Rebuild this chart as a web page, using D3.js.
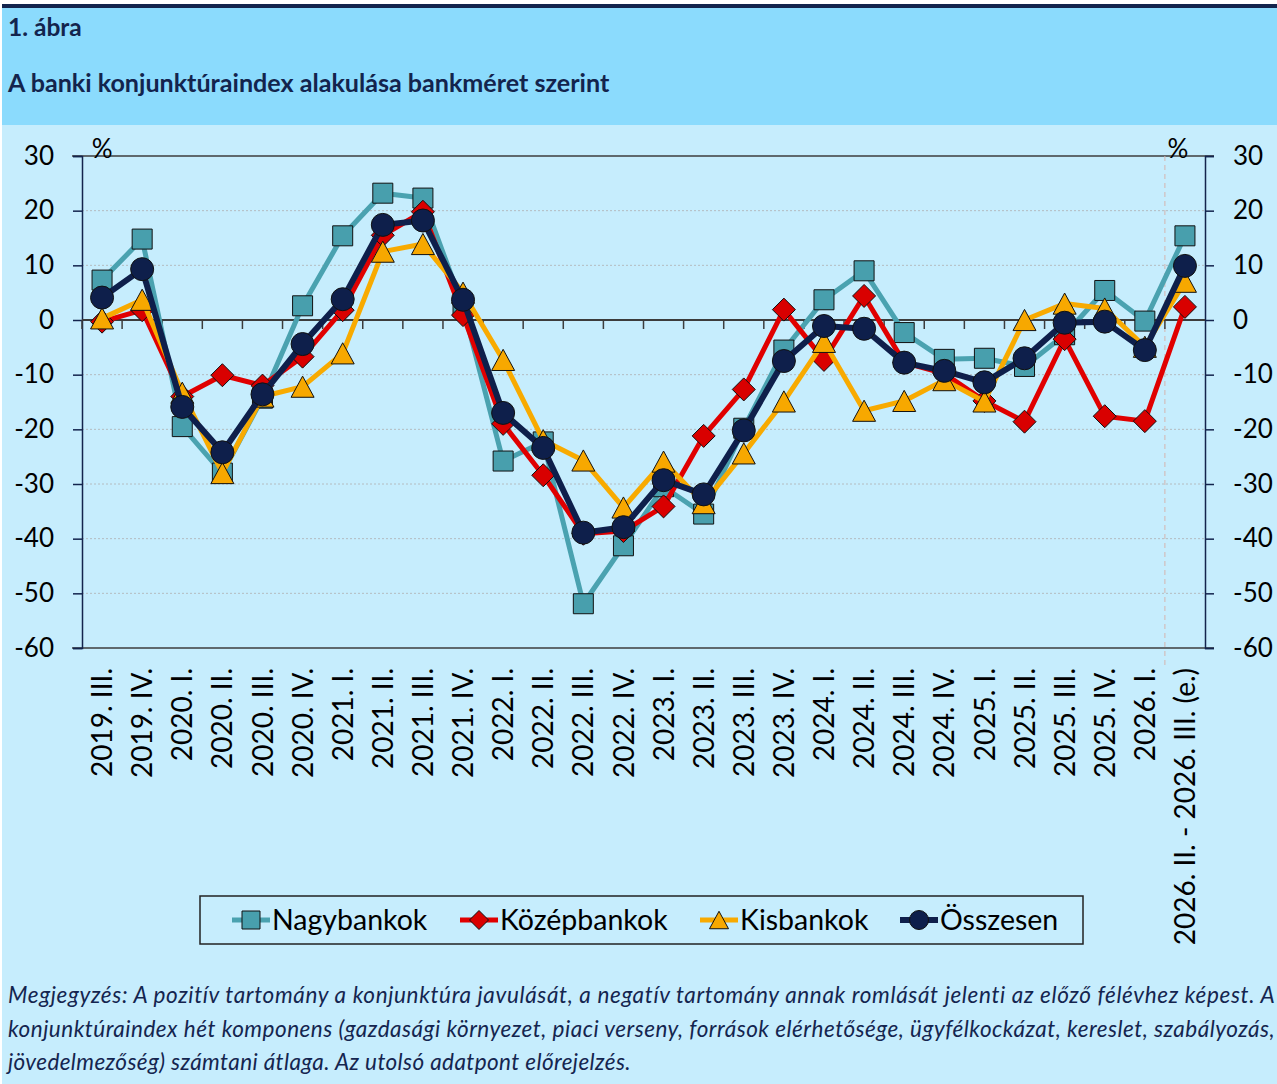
<!DOCTYPE html>
<html>
<head>
<meta charset="utf-8">
<script src="https://cdn.jsdelivr.net/npm/d3@7"></script>
<style>
  body { margin: 0; background: #ffffff; }
  svg { display: block; font-family: Lato, "Open Sans", sans-serif; }
</style>
</head>
<body>
<svg id="chart" width="1277" height="1084"></svg>
<script>
// negyedévek (x tengely)
var categories = ["2019. III.", "2019. IV.", "2020. I.", "2020. II.", "2020. III.", "2020. IV.",
    "2021. I.", "2021. II.", "2021. III.", "2021. IV.", "2022. I.", "2022. II.", "2022. III.", "2022. IV.",
    "2023. I.", "2023. II.", "2023. III.", "2023. IV.", "2024. I.", "2024. II.", "2024. III.", "2024. IV.",
    "2025. I.", "2025. II.", "2025. III.", "2025. IV.", "2026. I.", "2026. II. - 2026. III. (e.)"];

var nagybankok = [7.3, 14.8, -19.5, -28.0, -14.3, 2.6, 15.4, 23.2, 22.3, 2.4, -25.8, -22.3, -51.9, -41.3,
    -30.5, -35.5, -19.8, -5.5, 3.7, 9.0, -2.3, -7.2, -7.0, -8.5, -2.7, 5.4, -0.2, 15.4];
var kozepbankok = [-0.3, 1.8, -14.0, -10.1, -12.0, -6.7, 1.8, 15.5, 19.8, 0.9, -19.0, -28.4, -39.1, -38.6,
    -34.1, -21.2, -12.7, 1.9, -7.3, 4.4, -7.8, -9.8, -14.8, -18.6, -3.5, -17.6, -18.5, 2.4];
var kisbankok = [0.3, 3.7, -13.3, -28.0, -14.0, -12.2, -6.1, 12.5, 13.9, 5.0, -7.3, -22.0, -25.7, -34.3,
    -25.9, -33.5, -24.4, -14.9, -4.0, -16.6, -14.8, -11.0, -14.9, 0.0, 3.0, 2.1, -4.9, 7.0];
var osszesen = [4.1, 9.3, -15.9, -24.2, -13.6, -4.4, 3.8, 17.4, 18.2, 3.7, -17.0, -23.4, -38.9, -37.9,
    -29.3, -31.9, -20.2, -7.5, -1.1, -1.6, -7.8, -9.3, -11.4, -7.0, -0.5, -0.3, -5.5, 9.9];

var yTicks = [30, 20, 10, 0, -10, -20, -30, -40, -50, -60];

var seriesNames = ["Nagybankok", "Középbankok", "Kisbankok", "Összesen"];

var footnoteLines = [
    "Megjegyzés: A pozitív tartomány a konjunktúra javulását, a negatív tartomány annak romlását jelenti az előző félévhez képest. A",
    "konjunktúraindex hét komponens (gazdasági környezet, piaci verseny, források elérhetősége, ügyfélkockázat, kereslet, szabályozás,",
    "jövedelmezőség) számtani átlaga. Az utolsó adatpont előrejelzés."
];

var navy = "#13244d";
var axisColor = "#3c3c3c";

var series = [
    {name: seriesNames[0], values: nagybankok, color: "#4aa2b0", fill: "#489fad", marker: "square", width: 5},
    {name: seriesNames[1], values: kozepbankok, color: "#e00000", fill: "#d90000", marker: "diamond", width: 5},
    {name: seriesNames[2], values: kisbankok, color: "#f8aa00", fill: "#f7a800", marker: "triangle", width: 5},
    {name: seriesNames[3], values: osszesen, color: "#0e1f4b", fill: "#0e1f4b", marker: "circle", width: 6}
];

function marker_path(type, s) {
    // s = half size
    if (type == "square") return "M" + (-s) + "," + (-s) + "h" + (2 * s) + "v" + (2 * s) + "h" + (-2 * s) + "Z";
    if (type == "diamond") return "M0," + (-s) + "L" + s + ",0L0," + s + "L" + (-s) + ",0Z";
    if (type == "triangle") return "M0," + (-s * 0.92) + "L" + s + "," + (s * 0.92) + "L" + (-s) + "," + (s * 0.92) + "Z";
    return d3.arc()({innerRadius: 0, outerRadius: s, startAngle: 0, endAngle: 2 * Math.PI});
}

function marker_size(type) {
    if (type == "square") return 10;
    return 11.5;
}

function draw_chart() {
    var svg = d3.select("#chart");
    svg.selectAll("*").remove();

    // háttér
    svg.append("rect").attr("x", 0).attr("y", 0).attr("width", 1277).attr("height", 1084).attr("fill", "#ffffff");
    svg.append("rect").attr("x", 2).attr("y", 4).attr("width", 1275).attr("height", 4).attr("fill", navy);
    svg.append("rect").attr("x", 2).attr("y", 8).attr("width", 1275).attr("height", 117).attr("fill", "#8bdbfd");
    svg.append("rect").attr("x", 2).attr("y", 125).attr("width", 1275).attr("height", 959).attr("fill", "#c6edfd");

    svg.append("text").attr("x", 8).attr("y", 36)
        .attr("font-size", 24.5).attr("font-weight", "bold").attr("fill", navy)
        .text("1. ábra");
    svg.append("text").attr("x", 8).attr("y", 92)
        .attr("font-size", 25.1).attr("font-weight", "bold").attr("fill", navy)
        .text("A banki konjunktúraindex alakulása bankméret szerint");

    var left = 82, right = 1205, top = 156, bottom = 648;

    var x = d3.scaleBand().domain(categories).range([left, right]);
    var y = d3.scaleLinear().domain([-60, 30]).range([bottom, top]);
    var cx = function(i) { return x(categories[i]) + x.bandwidth() / 2; };

    // rácsvonalak
    svg.append("g").selectAll("line")
        .data(yTicks.filter(function(d) { return d != 0 && d != 30 && d != -60; }))
        .enter().append("line")
        .attr("x1", left).attr("x2", right)
        .attr("y1", function(d) { return y(d); }).attr("y2", function(d) { return y(d); })
        .attr("stroke", "#b4bcc0").attr("stroke-width", 1).attr("stroke-dasharray", "2,2");

    // keret
    svg.append("line").attr("x1", left - 10).attr("x2", right + 9).attr("y1", y(30)).attr("y2", y(30))
        .attr("stroke", axisColor).attr("stroke-width", 1.5);
    svg.append("line").attr("x1", left - 10).attr("x2", right + 9).attr("y1", y(-60)).attr("y2", y(-60))
        .attr("stroke", axisColor).attr("stroke-width", 1.5);

    // előrejelzés elválasztó
    var sep = x(categories[categories.length - 1]);
    svg.append("line").attr("x1", sep).attr("x2", sep).attr("y1", top).attr("y2", bottom + 18)
        .attr("stroke", "#d4b4ae").attr("stroke-width", 1).attr("stroke-dasharray", "5,4");

    var fmt = function(d) { return String(d); };
    var yLeft = svg.append("g")
        .attr("transform", "translate(" + left + ",0)")
        .call(d3.axisLeft(y).tickValues(yTicks).tickFormat(fmt).tickSize(9).tickPadding(19));
    var yRight = svg.append("g")
        .attr("transform", "translate(" + right + ",0)")
        .call(d3.axisRight(y).tickValues(yTicks).tickFormat(fmt).tickSize(9).tickPadding(19));
    [yLeft, yRight].forEach(function(a) {
        a.select(".domain").attr("stroke", navy).attr("stroke-width", 1.5);
        a.selectAll(".tick line").attr("stroke", navy).attr("stroke-width", 1.5);
        a.selectAll(".tick text").attr("font-size", 26).attr("fill", "#000").attr("font-family", "Lato");
    });
    yRight.selectAll(".tick text").attr("x", 28);

    // nulla tengely és negyedéves osztások
    svg.append("line").attr("x1", left).attr("x2", right).attr("y1", y(0)).attr("y2", y(0))
        .attr("stroke", axisColor).attr("stroke-width", 2);
    svg.append("g").selectAll("line")
        .data(categories)
        .enter().append("line")
        .attr("x1", function(d) { return x(d); }).attr("x2", function(d) { return x(d); })
        .attr("y1", y(0)).attr("y2", y(0) + 9)
        .attr("stroke", axisColor).attr("stroke-width", 1.5);

    svg.append("text").attr("x", cx(0)).attr("y", 158).attr("text-anchor", "middle")
        .attr("font-size", 26).text("%");
    svg.append("text").attr("x", cx(categories.length - 1) - 7).attr("y", 158).attr("text-anchor", "middle")
        .attr("font-size", 26).text("%");

    // x feliratok
    svg.append("g").selectAll("text")
        .data(categories)
        .enter().append("text")
        .attr("transform", function(d, i) { return "translate(" + cx(i) + ",668)rotate(-90)"; })
        .attr("text-anchor", "end")
        .attr("dy", "0.36em")
        .attr("font-size", 28)
        .text(function(d) { return d; });

    // vonalak és jelölők
    var line = d3.line()
        .x(function(d, i) { return cx(i); })
        .y(function(d) { return y(d); });

    series.forEach(function(s) {
        var g = svg.append("g");
        g.append("path").datum(s.values)
            .attr("d", line)
            .attr("fill", "none")
            .attr("stroke", s.color)
            .attr("stroke-width", s.width)
            .attr("stroke-linejoin", "round");
        g.selectAll("path.mk")
            .data(s.values)
            .enter().append("path")
            .attr("class", "mk")
            .attr("transform", function(d, i) { return "translate(" + cx(i) + "," + y(d) + ")"; })
            .attr("d", marker_path(s.marker, marker_size(s.marker)))
            .attr("fill", s.fill)
            .attr("stroke", "#111")
            .attr("stroke-width", 1);
    });

    draw_legend(svg);
    draw_footnote(svg);
}

function draw_legend(svg) {
    svg.append("rect").attr("x", 200).attr("y", 896).attr("width", 883).attr("height", 48)
        .attr("fill", "none").attr("stroke", "#222").attr("stroke-width", 1.5);

    var itemX = [232, 460, 700, 900];
    series.forEach(function(s, i) {
        var g = svg.append("g").attr("transform", "translate(" + itemX[i] + ",920)");
        g.append("line").attr("x1", 0).attr("x2", 38).attr("y1", 0).attr("y2", 0)
            .attr("stroke", s.color).attr("stroke-width", s.width);
        g.append("path").attr("transform", "translate(19,0)")
            .attr("d", marker_path(s.marker, s.marker == "square" ? 9 : 9.5))
            .attr("fill", s.fill).attr("stroke", "#111").attr("stroke-width", 1);
        g.append("text").attr("x", 40).attr("y", 0).attr("dy", "0.36em")
            .attr("font-size", 28.5).attr("fill", "#000")
            .text(s.name);
    });
}

function draw_footnote(svg) {
    var baselines = [1003, 1037, 1070];
    footnoteLines.forEach(function(t, i) {
        var txt = svg.append("text").attr("x", 8).attr("y", baselines[i])
            .attr("font-size", 22.5).attr("font-style", "italic").attr("fill", "#14254f")
            .attr("letter-spacing", 0.4)
            .text(t);
        if (i < footnoteLines.length - 1) {
            txt.attr("textLength", 1267).attr("lengthAdjust", "spacing");
        }
    });
}

draw_chart();
</script>
</body>
</html>
